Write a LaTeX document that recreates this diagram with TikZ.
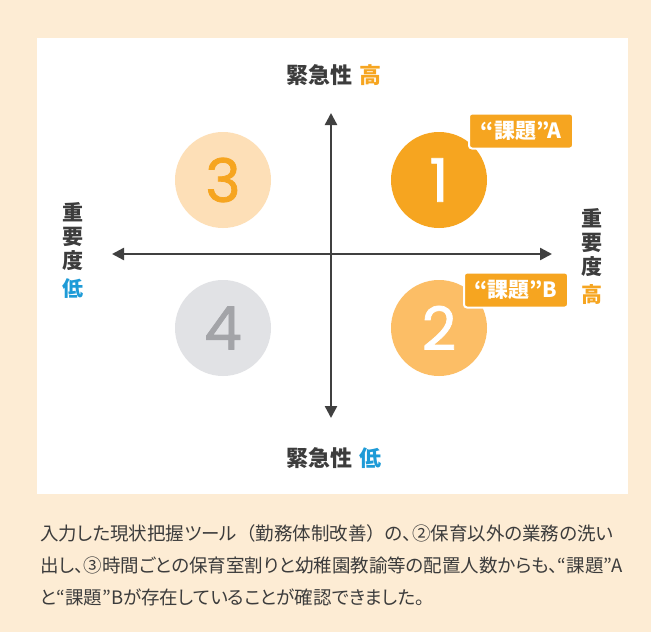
\documentclass[tikz,border=0pt]{standalone}
\usepackage{fontspec}
\setmainfont{Noto Sans CJK JP}
\newfontfamily\captionfont[RawFeature=+palt]{Noto Sans CJK JP}
\newfontfamily\digitfont[FakeBold=1.2]{Poppins}
\newcommand{\fw}[1]{{\fontspec{Noto Sans CJK JP}#1}}
\usetikzlibrary{arrows.meta, positioning}

\definecolor{cream}{HTML}{FDECD4}
\definecolor{axisgray}{HTML}{404040}
\definecolor{textgray}{HTML}{3C3C3C}
\definecolor{hiorange}{HTML}{F6A520}
\definecolor{midorange}{HTML}{FCBE66}
\definecolor{paleorange}{HTML}{FDDFB7}
\definecolor{palegray}{HTML}{E1E2E5}
\definecolor{digitgray}{HTML}{A3A4A8}
\definecolor{lowblue}{HTML}{1E9BD7}

\tikzset{
  quad/.style={circle, minimum size=96pt, inner sep=0pt, font=\digitfont\fontsize{60}{60}\selectfont},
  badge/.style={fill=hiorange, draw=white, line width=2pt, rounded corners=3pt,
    minimum width=104pt, minimum height=35pt, inner sep=0pt, text=white,
    font=\bfseries\fontsize{21}{22}\selectfont},
  axislabel/.style={text=textgray, font=\bfseries\fontsize{22}{24}\selectfont, inner sep=0pt},
  sidelabel/.style={text=textgray, font=\bfseries\fontsize{21}{24}\selectfont,
    align=center, inner sep=0pt},
  caption/.style={text=textgray, anchor=west, inner sep=0pt, font=\captionfont\fontsize{18.5}{20}\selectfont}
}

\begin{document}
\begin{tikzpicture}[x=1pt, y=-1pt]
  \useasboundingbox (0,0) rectangle (651,632);
  \fill[cream] (0,0) rectangle (651,632);
  \fill[white] (37,38) rectangle (628,494);

  % axes
  \coordinate (top) at (331,113);
  \coordinate (bottom) at (331,418);
  \coordinate (left) at (112,254);
  \coordinate (right) at (552,254);
  \draw[axisgray, line width=2.4pt, {Triangle[length=12pt,width=12pt]}-{Triangle[length=12pt,width=12pt]}] (bottom) -- (top);
  \draw[axisgray, line width=2.4pt, {Triangle[length=12pt,width=12pt]}-{Triangle[length=12pt,width=12pt]}] (left) -- (right);

  % quadrants
  \node[quad, fill=hiorange, text=white] (q1) at (439,180) {1};
  \node[quad, fill=midorange, text=white] (q2) at (439,328) {2};
  \node[quad, fill=paleorange, text=hiorange] (q3) at (223,180) {3};
  \node[quad, fill=palegray, text=digitgray] (q4) at (223,328) {4};

  \node[badge] (taskA) at (521,131) {“課題”A};
  \node[badge] (taskB) at (516,290) {“課題”B};

  % axis labels
  \node[axislabel] (urgHigh) at (334,75) {緊急性\hspace{0.3em}\textcolor{hiorange}{高}};
  \node[axislabel] (urgLow) at (334,458) {緊急性\hspace{0.3em}\textcolor{lowblue}{低}};
  \node[sidelabel] (impLow) at (73,250) {重\\要\\度\\[4pt]\textcolor{lowblue}{低}};
  \node[sidelabel] (impHigh) at (592,257) {重\\要\\度\\[4pt]\textcolor{hiorange}{高}};

  % caption
  \node[caption] (line1) at (40,533) {入力した現状把握ツール\fw{（}勤務体制改善\fw{）}の、\fw{②}保育以外の業務の洗い};
  \node[caption] (line2) at (40,565) {出し、\fw{③}時間ごとの保育室割りと幼稚園教諭等の配置人数からも、“課題”A};
  \node[caption] (line3) at (40,597) {と“課題”Bが存在していることが確認できました。};
\end{tikzpicture}
\end{document}
